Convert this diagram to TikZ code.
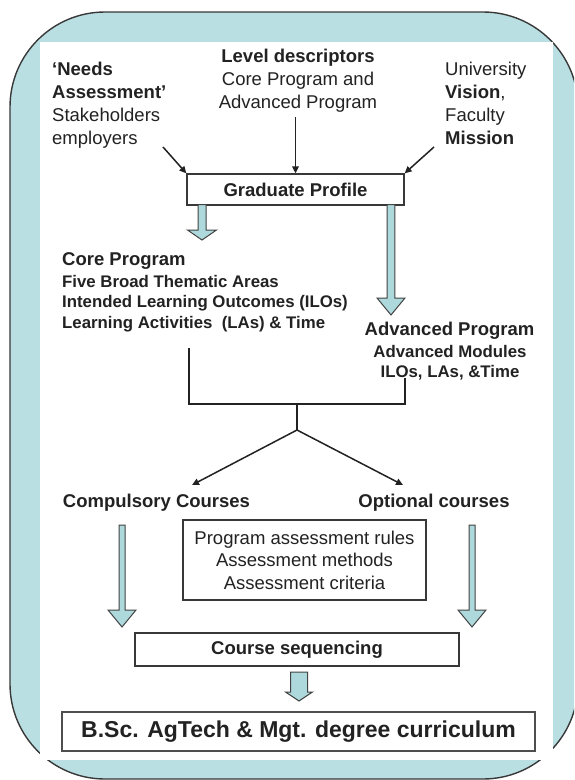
\documentclass[tikz,border=0pt]{standalone}
\usepackage{fontspec}
\setmainfont{Liberation Sans}
\usetikzlibrary{arrows.meta,calc}
\definecolor{frameteal}{HTML}{B9DFE2}
\definecolor{arrteal}{HTML}{ADD8DC}
\definecolor{ink}{HTML}{222222}
\newcommand\hollowarr[5]{%
  \path[hollow] let \p1=(#1), \p2=(#2) in
  (\x1-#3pt,\y1) -- (\x1-#3pt,\y2+#5pt) -- (\x1-#4pt,\y2+#5pt) -- (\x2,\y2)
  -- (\x1+#4pt,\y2+#5pt) -- (\x1+#3pt,\y2+#5pt) -- (\x1+#3pt,\y1) -- cycle;}
\begin{document}
\begin{tikzpicture}[x=1pt,y=-1pt,
  txt/.style={inner sep=0pt,text=ink,font=\fontsize{18.5}{23}\selectfont},
  btxt/.style={inner sep=0pt,text=ink,font=\fontsize{18.5}{23}\selectfont\bfseries},
  stxt/.style={inner sep=0pt,text=ink,font=\fontsize{16.8}{20.5}\selectfont\bfseries},
  box/.style={draw=ink!90,line width=1.3pt,fill=white,inner sep=0pt,text=ink},
  conn/.style={draw=ink,line width=1.5pt,-{Triangle[length=7pt,width=6.5pt]}},
  plain/.style={draw=ink,line width=1.5pt},
  hollow/.style={draw=ink!85,line width=1pt,fill=arrteal,line join=miter}]
\useasboundingbox (0,0) rectangle (574,780);
\clip (0,0) rectangle (574,780);
% frame
\draw[fill=frameteal,draw=ink!90,line width=1.4pt,rounded corners=95pt] (10,12) rectangle (578,779);
\fill[white] (40,42) rectangle (553,760);
% top texts
\node[txt,anchor=north west,align=left] (needs) at (52,61.8)
  {\textbf{‘Needs}\\\textbf{Assessment’}\\Stakeholders\\employers};
\node[txt,anchor=north,align=center] (level) at (298,48.7)
  {\textbf{Level descriptors}\\Core Program and\\ Advanced Program};
\node[txt,anchor=north west,align=left] (vision) at (445,61.8)
  {University\\\textbf{Vision},\\Faculty\\\textbf{Mission}};
% graduate profile
\node[box,minimum width=217pt,minimum height=31pt,font=\fontsize{18.5}{23}\selectfont\bfseries] (gp) at (295.5,189.5) {Graduate Profile};
\coordinate (n1) at (163,147);
\coordinate (n2) at (295.5,117);
\coordinate (n3) at (434,147);
\draw[conn] (n1) -- (gp.north west);
\draw[conn] (n2) -- (gp.north);
\draw[conn] (n3) -- (gp.north east);
% hollow arrows from profile
\coordinate (h1s) at (202,204.5);
\coordinate (h1e) at (202,240);
\coordinate (h2s) at (391,204.5);
\coordinate (h2e) at (391,315);
\hollowarr{h1s}{h1e}{4}{14.5}{10}
\hollowarr{h2s}{h2e}{3.8}{14}{17}
% core program
\node[btxt,anchor=base west] (corehead) at (62,265) {Core Program};
\node[stxt,anchor=north west,align=left] (corebody) at (62,275)
  {Five Broad Thematic Areas\\Intended Learning Outcomes (ILOs)\\Learning Activities~ (LAs) \& Time};
% advanced program
\node[btxt,anchor=base] (advhead) at (449.5,335) {Advanced Program};
\node[stxt,anchor=north,align=center] (advbody) at (450,345)
  {Advanced Modules\\ILOs, LAs, \&Time};
% joining lines
\coordinate (c1) at (189,348);
\coordinate (c2) at (189,404);
\coordinate (c3) at (405,378);
\coordinate (c4) at (405,404);
\coordinate (j) at (297,404);
\coordinate (s) at (297,430);
\coordinate (e1) at (192,485);
\coordinate (e2) at (403,485);
\draw[plain] (c1) -- (c2) -- (c4) -- (c3);
\draw[plain] (j) -- (s);
\draw[conn] (s) -- (e1);
\draw[conn] (s) -- (e2);
% courses
\node[btxt,anchor=base] (comp) at (156.5,507) {Compulsory Courses};
\node[btxt,anchor=base] (opt) at (434,507) {Optional courses};
% assessment box
\node[box,minimum width=243pt,minimum height=80pt,align=center,font=\fontsize{18.5}{22.5}\selectfont] (assess) at (304.5,560)
  {Program assessment rules\\Assessment methods\\Assessment criteria};
% lower hollow arrows
\coordinate (h3s) at (122,525);
\coordinate (h3e) at (122,627);
\coordinate (h4s) at (472,525);
\coordinate (h4e) at (472,627);
\hollowarr{h3s}{h3e}{3}{14}{17}
\hollowarr{h4s}{h4e}{3}{14}{17}
% course sequencing
\node[box,minimum width=324pt,minimum height=33pt,font=\fontsize{18.5}{23}\selectfont\bfseries] (seq) at (297,649.5) {Course sequencing};
\coordinate (h5s) at (299,672);
\coordinate (h5e) at (299,701);
\hollowarr{h5s}{h5e}{8.5}{13.5}{9}
% final
\node[box,line width=1.8pt,draw=ink!80,minimum width=473pt,minimum height=39pt,font=\fontsize{23}{27}\selectfont\bfseries] (final) at (298.5,731.5) {B.Sc. AgTech \& Mgt. degree curriculum};
\end{tikzpicture}
\end{document}
